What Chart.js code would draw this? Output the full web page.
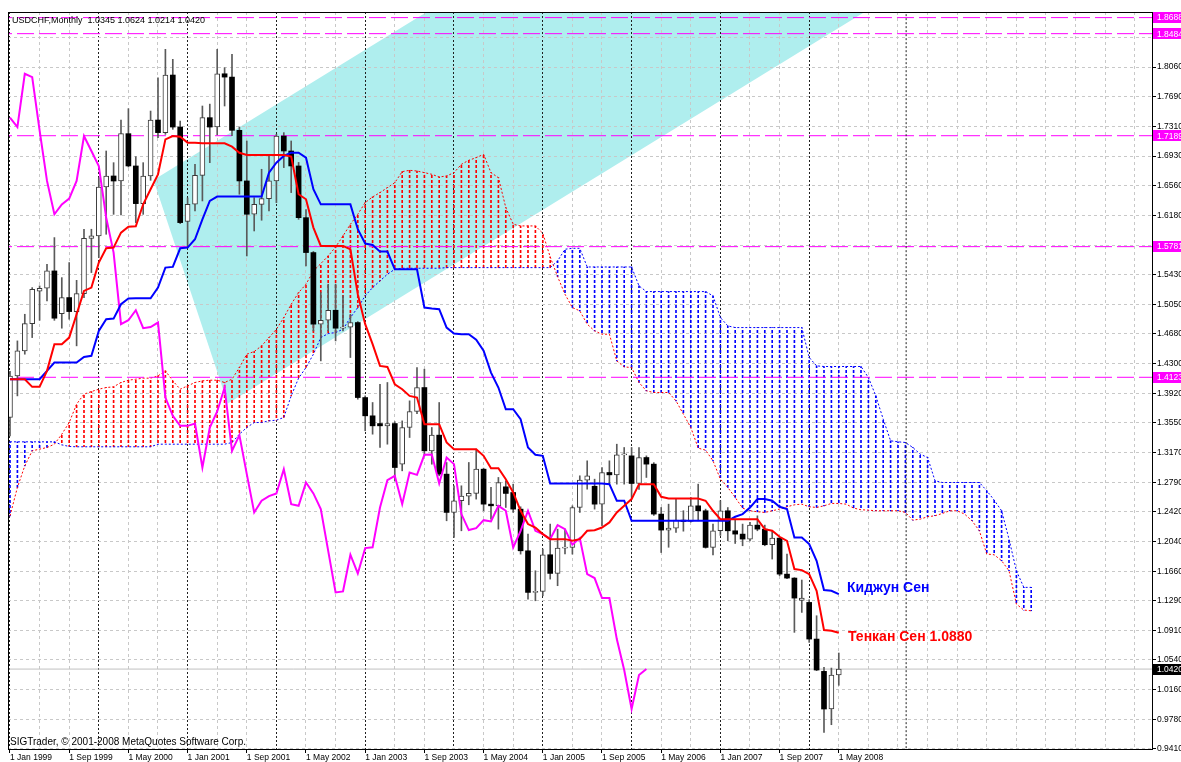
<!DOCTYPE html>
<html>
<head>
<meta charset="utf-8">
<script src="https://cdn.jsdelivr.net/npm/chart.js@4.4.1/dist/chart.umd.min.js"></script>
<style>
html,body{margin:0;padding:0;background:#fff;overflow:hidden}
canvas{display:block}
</style>
</head>
<body>
<canvas id="c" width="1181" height="762"></canvas>
<script>
// ---------------- texts ----------------
const symbolTitle = 'USDCHF,Monthly  1.0345 1.0624 1.0214 1.0420';
const copyrightText = 'SIGTrader, \u00a9 2001-2008 MetaQuotes Software Corp.';
const kijunLabel = 'Киджун Сен';
const tenkanLabel = 'Тенкан Сен 1.0880';

// ---------------- axes ----------------
// x values are month indexes, 0 = Jan 1999
const xTickLabels = ['1 Jan 1999','1 Sep 1999','1 May 2000','1 Jan 2001','1 Sep 2001','1 May 2002','1 Jan 2003','1 Sep 2003','1 May 2004','1 Jan 2005','1 Sep 2005','1 May 2006','1 Jan 2007','1 Sep 2007','1 May 2008'];
const yTickValues = [0.9410,0.9780,1.0160,1.0540,1.0910,1.1290,1.1660,1.2040,1.2420,1.2790,1.3170,1.3550,1.3920,1.4300,1.4680,1.5050,1.5430,1.5800,1.6180,1.6560,1.6930,1.7310,1.7690,1.8060,1.8440];

// horizontal price levels, bid line, vertical line object
const levelValues = [1.8688, 1.8484, 1.7189, 1.5781, 1.4123];
const bidValue = 1.0420;
const vLineValues = [121.1];

// ---------------- monthly candles (Jan 1999 .. May 2008) ----------------
const open = [1.3613,1.4140,1.4458,1.4805,1.5215,1.5253,1.5473,1.4932,1.5135,1.4957,
1.5185,1.5887,1.5917,1.6538,1.6678,1.6614,1.7215,1.6805,1.6327,1.6678,
1.7388,1.7228,1.7959,1.7299,1.6100,1.6319,1.6686,1.7418,1.7299,1.7975,
1.7933,1.7257,1.6615,1.6192,1.6318,1.6390,1.6615,1.7185,1.6995,1.6805,
1.6149,1.5706,1.4797,1.4847,1.4974,1.4746,1.4760,1.4818,1.3866,1.3634,
1.3536,1.3507,1.3536,1.3020,1.3486,1.3689,1.3993,1.3190,1.3389,1.2894,
1.2408,1.2556,1.2615,1.2649,1.2957,1.2513,1.2492,1.2733,1.2661,1.2450,
1.1921,1.1393,1.1405,1.1871,1.1634,1.1955,1.1965,1.2471,1.2818,1.2740,
1.2513,1.2915,1.2885,1.3139,1.3126,1.2775,1.3105,1.3021,1.2387,1.2184,
1.2209,1.2310,1.2293,1.2492,1.2429,1.1964,1.2175,1.2429,1.2175,1.2133,
1.2070,1.2247,1.2196,1.1998,1.2082,1.1625,1.1575,1.1290,1.1266,1.0801,
1.0391,0.9913,1.0345];
const high = [1.4200,1.4585,1.4923,1.5261,1.5283,1.5557,1.5896,1.5388,1.5579,1.5354,
1.6002,1.6002,1.6657,1.6995,1.6847,1.7388,1.7532,1.6923,1.6847,1.7502,
1.7925,1.8285,1.8158,1.7375,1.6400,1.6826,1.7566,1.7590,1.8285,1.8052,
1.8221,1.7300,1.7122,1.6403,1.6763,1.6932,1.7207,1.7228,1.7122,1.6850,
1.6250,1.5720,1.5198,1.5304,1.5304,1.5156,1.4923,1.4830,1.3887,1.3803,
1.4035,1.4057,1.3560,1.3570,1.3824,1.4247,1.4226,1.3486,1.3803,1.3042,
1.2746,1.2746,1.3042,1.3211,1.2970,1.2725,1.2852,1.2809,1.2767,1.2480,
1.2133,1.1668,1.1943,1.2260,1.2196,1.2196,1.2492,1.2873,1.3063,1.2830,
1.2978,1.3063,1.3274,1.3232,1.3232,1.3232,1.3126,1.3040,1.2471,1.2513,
1.2577,1.2430,1.2598,1.2767,1.2450,1.2260,1.2556,1.2470,1.2323,1.2260,
1.2281,1.2365,1.2247,1.2175,1.2090,1.1879,1.1580,1.1550,1.1300,1.1097,
1.0442,1.0433,1.0624];
const low = [1.3380,1.3887,1.4416,1.4627,1.4846,1.5092,1.4846,1.4746,1.4860,1.4522,
1.5135,1.5452,1.5642,1.5938,1.6191,1.6183,1.6792,1.6086,1.6191,1.6623,
1.7164,1.7206,1.7270,1.6073,1.5769,1.6234,1.6361,1.6847,1.7200,1.7566,
1.7190,1.6446,1.5663,1.5980,1.6116,1.6234,1.6340,1.6784,1.6467,1.6128,
1.5537,1.4712,1.4331,1.4712,1.4585,1.4712,1.4374,1.3845,1.3444,1.3401,
1.3232,1.3274,1.2809,1.2936,1.3359,1.3660,1.3126,1.3020,1.2873,1.2302,
1.2091,1.2175,1.2505,1.2577,1.2429,1.2323,1.2196,1.2471,1.2408,1.1879,
1.1308,1.1287,1.1350,1.1562,1.1478,1.1880,1.1879,1.2408,1.2703,1.2450,
1.2239,1.2767,1.2767,1.2767,1.2598,1.2700,1.2852,1.2370,1.1899,1.1966,
1.2154,1.2170,1.2285,1.2302,1.1955,1.1870,1.2116,1.2048,1.2014,1.1985,
1.2048,1.2175,1.1985,1.1816,1.1604,1.1566,1.0886,1.1139,1.0759,1.0400,
0.9617,0.9714,1.0214];
const close = [1.4140,1.4458,1.4805,1.5240,1.5253,1.5473,1.4873,1.5135,1.4957,1.5185,
1.5887,1.5917,1.6538,1.6678,1.6614,1.7215,1.6805,1.6327,1.6678,1.7388,
1.7228,1.7959,1.7299,1.6086,1.6319,1.6686,1.7418,1.7299,1.7975,1.7933,
1.7257,1.6615,1.6192,1.6318,1.6390,1.6615,1.7185,1.6995,1.6805,1.6149,
1.5706,1.4797,1.4847,1.4974,1.4746,1.4760,1.4818,1.3866,1.3634,1.3507,
1.3507,1.3536,1.2978,1.3486,1.3689,1.3993,1.3190,1.3389,1.2894,1.2408,
1.2556,1.2615,1.2649,1.2957,1.2513,1.2492,1.2788,1.2649,1.2450,1.1921,
1.1393,1.1405,1.1871,1.1634,1.1955,1.1965,1.2471,1.2818,1.2873,1.2513,
1.2915,1.2885,1.3139,1.3143,1.2775,1.3105,1.3021,1.2387,1.2184,1.2209,
1.2310,1.2293,1.2492,1.2429,1.1964,1.2175,1.2429,1.2175,1.2133,1.2070,
1.2247,1.2196,1.1998,1.2082,1.1625,1.1575,1.1321,1.1321,1.0801,1.0408,
0.9913,1.0344,1.0420];

// ---------------- Ichimoku lines ----------------
const tenkan = [1.4099,1.4099,1.4099,1.4002,1.4002,1.4205,1.4543,1.4543,1.4627,1.4923,
1.5219,1.5261,1.5579,1.5760,1.5769,1.5959,1.6035,1.6039,1.6319,1.6509,
1.6699,1.7143,1.7185,1.7177,1.7101,1.7101,1.7092,1.7092,1.7092,1.7092,
1.7050,1.6973,1.6944,1.6944,1.6944,1.6944,1.6944,1.6944,1.6925,1.6446,
1.6382,1.6023,1.5790,1.5790,1.5790,1.5790,1.5748,1.5177,1.4797,1.4543,
1.4268,1.4255,1.4035,1.3972,1.3887,1.3866,1.3528,1.3528,1.3528,1.3296,
1.3211,1.3211,1.3211,1.3211,1.3126,1.2970,1.2970,1.2830,1.2661,1.2429,
1.2260,1.2217,1.2133,1.2069,1.2069,1.2069,1.2048,1.2069,1.2175,1.2183,
1.2217,1.2281,1.2408,1.2492,1.2577,1.2767,1.2767,1.2767,1.2606,1.2585,
1.2585,1.2585,1.2585,1.2585,1.2556,1.2429,1.2323,1.2323,1.2323,1.2323,
1.2323,1.2323,1.2196,1.2175,1.2099,1.2048,1.1689,1.1676,1.1625,1.1414,
1.0915,1.0907,1.0880];
const kijun = [1.4099,1.4099,1.4099,1.4099,1.4099,1.4205,1.4310,1.4310,1.4310,1.4310,
1.4382,1.4395,1.4712,1.4860,1.4868,1.5050,1.5122,1.5126,1.5126,1.5126,
1.5261,1.5515,1.5524,1.5760,1.5769,1.5875,1.6128,1.6361,1.6416,1.6416,
1.6416,1.6416,1.6416,1.6416,1.6416,1.6720,1.6847,1.6932,1.6974,1.6974,
1.6910,1.6510,1.6318,1.6318,1.6318,1.6318,1.6318,1.6002,1.5820,1.5803,
1.5718,1.5718,1.5494,1.5494,1.5494,1.5494,1.5008,1.4995,1.4987,1.4754,
1.4678,1.4670,1.4670,1.4600,1.4460,1.4183,1.3993,1.3718,1.3718,1.3592,
1.3232,1.3139,1.3126,1.2775,1.2775,1.2775,1.2775,1.2775,1.2775,1.2775,
1.2775,1.2767,1.2556,1.2556,1.2302,1.2302,1.2302,1.2302,1.2302,1.2302,
1.2302,1.2302,1.2302,1.2302,1.2302,1.2302,1.2302,1.2302,1.2353,1.2387,
1.2470,1.2577,1.2577,1.2556,1.2480,1.2450,1.2091,1.2091,1.2006,1.1795,
1.1423,1.1414,1.1372];
// Chinkou (lagging span), plotted from Jan 1999 to Mar 2006
const chinkou = [1.7418,1.7299,1.7975,1.7933,1.7257,1.6615,1.6192,1.6318,1.6390,1.6615,
1.7185,1.6995,1.6805,1.6149,1.5706,1.4797,1.4847,1.4974,1.4746,1.4760,
1.4818,1.3866,1.3634,1.3507,1.3507,1.3536,1.2978,1.3486,1.3689,1.3993,
1.3190,1.3389,1.2894,1.2408,1.2556,1.2615,1.2649,1.2957,1.2513,1.2492,
1.2788,1.2649,1.2450,1.1921,1.1393,1.1405,1.1871,1.1634,1.1955,1.1965,
1.2471,1.2818,1.2873,1.2513,1.2915,1.2885,1.3139,1.3143,1.2775,1.3105,
1.3021,1.2387,1.2184,1.2209,1.2310,1.2293,1.2492,1.2429,1.1964,1.2175,
1.2429,1.2175,1.2133,1.2070,1.2247,1.2196,1.1998,1.2082,1.1625,1.1575,
1.1321,1.1321,1.0801,1.0408,0.9913,1.0344,1.0420];
// Senkou spans, Jan 1999 .. Jul 2010
const senkouA = [1.2365,1.2725,1.2999,1.3190,1.3211,1.3232,1.3274,1.3401,1.3549,1.3782,
1.3909,1.3942,1.3972,1.3993,1.4002,1.4057,1.4086,1.4099,1.4112,1.4112,
1.4141,1.4205,1.4078,1.3972,1.4014,1.4057,1.4078,1.4086,1.4086,1.4057,
1.4099,1.4247,1.4416,1.4450,1.4522,1.4627,1.4733,1.4881,1.5050,1.5198,
1.5304,1.5473,1.5566,1.5663,1.5777,1.5917,1.6065,1.6192,1.6340,1.6412,
1.6467,1.6530,1.6593,1.6733,1.6750,1.6741,1.6720,1.6699,1.6665,1.6678,
1.6720,1.6826,1.6877,1.6910,1.6953,1.6720,1.6657,1.6276,1.6065,1.6044,
1.6044,1.6044,1.5950,1.5650,1.5400,1.5177,1.5008,1.4966,1.4797,1.4712,
1.4670,1.4670,1.4331,1.4255,1.4247,1.4057,1.3951,1.3930,1.3930,1.3930,
1.3824,1.3655,1.3486,1.3224,1.3198,1.3063,1.2830,1.2725,1.2598,1.2463,
1.2429,1.2416,1.2408,1.2429,1.2450,1.2480,1.2505,1.2513,1.2480,1.2471,
1.2492,1.2522,1.2522,1.2513,1.2463,1.2442,1.2437,1.2429,1.2429,1.2429,
1.2429,1.2408,1.2310,1.2323,1.2353,1.2366,1.2395,1.2429,1.2429,1.2387,
1.2302,1.2175,1.1880,1.1871,1.1795,1.1668,1.1245,1.1169,1.1160];
const senkouB = [1.3304,1.3304,1.3304,1.3304,1.3304,1.3304,1.3304,1.3266,1.3245,1.3241,
1.3241,1.3241,1.3241,1.3241,1.3241,1.3241,1.3241,1.3241,1.3241,1.3241,
1.3274,1.3274,1.3274,1.3274,1.3274,1.3274,1.3274,1.3274,1.3274,1.3274,
1.3295,1.3401,1.3486,1.3549,1.3549,1.3570,1.3579,1.3613,1.3888,1.4112,
1.4247,1.4416,1.4627,1.4678,1.4691,1.4733,1.4881,1.5008,1.5156,1.5262,
1.5346,1.5431,1.5494,1.5507,1.5507,1.5507,1.5507,1.5507,1.5507,1.5515,
1.5515,1.5515,1.5515,1.5515,1.5515,1.5515,1.5515,1.5515,1.5515,1.5515,
1.5515,1.5515,1.5515,1.5515,1.5600,1.5748,1.5760,1.5760,1.5523,1.5523,
1.5523,1.5523,1.5523,1.5523,1.5523,1.5283,1.5211,1.5211,1.5211,1.5211,
1.5211,1.5211,1.5211,1.5211,1.5211,1.5156,1.4881,1.4775,1.4754,1.4754,
1.4754,1.4754,1.4754,1.4754,1.4754,1.4754,1.4754,1.4754,1.4374,1.4268,
1.4260,1.4260,1.4260,1.4260,1.4260,1.4260,1.4120,1.3888,1.3592,1.3317,
1.3304,1.3296,1.3232,1.3148,1.3105,1.2810,1.2788,1.2788,1.2788,1.2788,
1.2788,1.2788,1.2683,1.2564,1.2429,1.2070,1.1668,1.1457,1.1457];

// cyan price channel: corner points (month index, price)
const channelX = [19.39, 29.43, 150, 140];
const channelY = [1.6627, 1.3789, 2.0752, 2.3592];

// ---------------- helpers ----------------
const xGridStep = 4, xLabelStep = 8;
const isSeparator = v => v % 12 === 0 && v <= 108;
const isLabeled = v => v % xLabelStep === 0 && v / xLabelStep < xTickLabels.length;
const pts = arr => arr.map((v, i) => ({x: i, y: v}));

const canvas = document.getElementById('c');
const ctx = canvas.getContext('2d');
function dotPattern(color) {
  const p = document.createElement('canvas');
  p.width = 4; p.height = 5;
  const g = p.getContext('2d');
  g.fillStyle = color; g.fillRect(0, 0, 4, 3);
  return ctx.createPattern(p, 'repeat');
}
const redDots = dotPattern('#ff0000');
const blueDots = dotPattern('#0000ff');

const hatchUp = [], hatchDown = [];
senkouA.forEach((a, j) => {
  const b = senkouB[j];
  if (a > b) hatchUp.push({x: j, y: [b, a]});
  else hatchDown.push({x: j, y: [a, b]});
});
const wicks = open.map((_, i) => ({x: i, y: [low[i], high[i]]}));
const bullBodies = [], bearBodies = [];
open.forEach((o, i) => {
  if (close[i] >= o) bullBodies.push({x: i, y: [o, close[i]]});
  else bearBodies.push({x: i, y: [close[i], o]});
});

const lineBase = {type: 'line', pointRadius: 0, tension: 0, fill: false};
const datasets = [
  Object.assign({}, lineBase, {label: 'channel', data: channelX.map((x, k) => ({x, y: channelY[k]})),
    borderWidth: 0, borderColor: 'rgba(0,0,0,0)', fill: 'shape', backgroundColor: '#afeeee', order: 100}),
  {type: 'bar', label: 'cloud up', data: hatchUp, backgroundColor: redDots, barThickness: 1, grouped: false, borderWidth: 0, order: 95},
  {type: 'bar', label: 'cloud down', data: hatchDown, backgroundColor: blueDots, barThickness: 1, grouped: false, borderWidth: 0, order: 94},
  Object.assign({}, lineBase, {label: 'Senkou A', data: pts(senkouA), borderColor: '#ff0000', borderWidth: 1, borderDash: [2, 2], order: 90}),
  Object.assign({}, lineBase, {label: 'Senkou B', data: pts(senkouB), borderColor: '#0000ff', borderWidth: 1, borderDash: [2, 2], order: 89})
];
levelValues.forEach(v => datasets.push(Object.assign({}, lineBase, {label: 'level ' + v,
  data: [{x: -5, y: v}, {x: 160, y: v}], borderColor: '#ff00ff', borderWidth: 1, borderDash: [17, 5], order: 80})));
datasets.push(Object.assign({}, lineBase, {label: 'bid', data: [{x: -5, y: bidValue}, {x: 160, y: bidValue}],
  borderColor: '#c0c0c0', borderWidth: 1, order: 79}));
vLineValues.forEach(v => datasets.push(Object.assign({}, lineBase, {label: 'vline',
  data: [{x: v, y: 0.5}, {x: v, y: 2.5}], borderColor: '#202020', borderWidth: 1, borderDash: [2, 2], order: 78})));
datasets.push(
  {type: 'bar', label: 'wicks', data: wicks, backgroundColor: '#5a5a5a', barThickness: 1, grouped: false, borderWidth: 0, order: 60},
  {type: 'bar', label: 'bull', data: bullBodies, backgroundColor: '#ffffff', borderColor: '#3a3a3a', borderWidth: 1,
    borderSkipped: false, barThickness: 5, minBarLength: 1, grouped: false, order: 55},
  {type: 'bar', label: 'bear', data: bearBodies, backgroundColor: '#000000', borderWidth: 0,
    borderSkipped: false, barThickness: 5, minBarLength: 1, grouped: false, order: 54},
  Object.assign({}, lineBase, {label: 'Chinkou', data: pts(chinkou), borderColor: '#ff00ff', borderWidth: 2, order: 30}),
  Object.assign({}, lineBase, {label: 'Kijun', data: pts(kijun), borderColor: '#0000ff', borderWidth: 2, order: 20}),
  Object.assign({}, lineBase, {label: 'Tenkan', data: pts(tenkan), borderColor: '#ff0000', borderWidth: 2, order: 10})
);

const FONT = '"Liberation Sans", Arial, sans-serif';

const annotate = {
  id: 'annotate',
  afterDraw(chart) {
    const {ctx: c, chartArea: a, scales: {y}} = chart;
    c.save();
    c.setLineDash([]);
    c.strokeStyle = '#000'; c.lineWidth = 1;
    c.strokeRect(a.left + 0.5, a.top + 0.5, a.right - a.left - 1, a.bottom - a.top - 1);
    c.textBaseline = 'middle'; c.textAlign = 'left';
    c.font = '8.5px ' + FONT;
    levelValues.forEach(v => {
      const yy = y.getPixelForValue(v);
      c.fillStyle = '#ff00ff';
      c.fillRect(a.right, Math.round(yy - 5.5), 30, 11);
      c.fillStyle = '#ffffff';
      c.fillText(v.toFixed(4), a.right + 4, yy + 0.5);
    });
    const by = y.getPixelForValue(bidValue);
    c.fillStyle = '#000000';
    c.fillRect(a.right, Math.round(by - 5.5), 30, 11);
    c.fillStyle = '#ffffff';
    c.fillText(bidValue.toFixed(4), a.right + 4, by + 0.5);

    c.fillStyle = '#000';
    c.font = '9px ' + FONT;
    c.fillText(symbolTitle, a.left + 4, a.top + 9);
    c.font = '10px ' + FONT;
    c.fillText(copyrightText, a.left + 2, a.bottom - 8);

    c.font = 'bold 14px ' + FONT;
    c.fillStyle = '#0000ff';
    c.fillText(kijunLabel, 847, 588);
    c.fillStyle = '#ff0000';
    c.fillText(tenkanLabel, 848, 637);
    c.restore();
  }
};

new Chart(ctx, {
  type: 'line',
  data: {datasets},
  plugins: [annotate],
  options: {
    responsive: false,
    maintainAspectRatio: false,
    devicePixelRatio: 1,
    animation: false,
    events: [],
    layout: {padding: {left: 8, top: 12, right: 0, bottom: 0}},
    plugins: {
      legend: {display: false},
      tooltip: {enabled: false},
      title: {display: false},
      filler: {drawTime: 'beforeDraw'}
    },
    scales: {
      x: {
        type: 'linear',
        min: -0.27, max: 154.46,
        offset: false,
        afterBuildTicks: s => {
          const t = [];
          for (let v = 0; v <= s.max; v += xGridStep) t.push({value: v});
          s.ticks = t;
        },
        afterFit: s => { s.height = 12; },
        ticks: {
          autoSkip: false, maxRotation: 0, minRotation: 0, align: 'start', padding: 0,
          color: '#000', font: {family: FONT, size: 8.5},
          callback: v => isLabeled(v) ? xTickLabels[v / xLabelStep] : ''
        },
        grid: {
          offset: false,
          color: c => (c.tick && isSeparator(c.tick.value)) ? '#202020' : '#c8c8c8',
          lineWidth: 1,
          drawTicks: true, tickLength: 3,
          tickColor: c => (c.tick && isLabeled(c.tick.value)) ? '#000000' : 'rgba(0,0,0,0)'
        },
        border: {display: false, dash: c => (c.tick && isSeparator(c.tick.value)) ? [2, 2] : [3, 3]}
      },
      y: {
        type: 'linear',
        position: 'right',
        min: 0.9393, max: 1.8759,
        afterBuildTicks: s => { s.ticks = yTickValues.map(v => ({value: v})); },
        afterFit: s => { s.width = 28; },
        ticks: {
          autoSkip: false, padding: 1, color: '#000', font: {family: FONT, size: 8.5},
          callback: v => v.toFixed(4)
        },
        grid: {color: '#c8c8c8', lineWidth: 1, drawTicks: true, tickLength: 3, tickColor: '#000'},
        border: {display: false, dash: [3, 3]}
      }
    }
  }
});
</script>
</body>
</html>
